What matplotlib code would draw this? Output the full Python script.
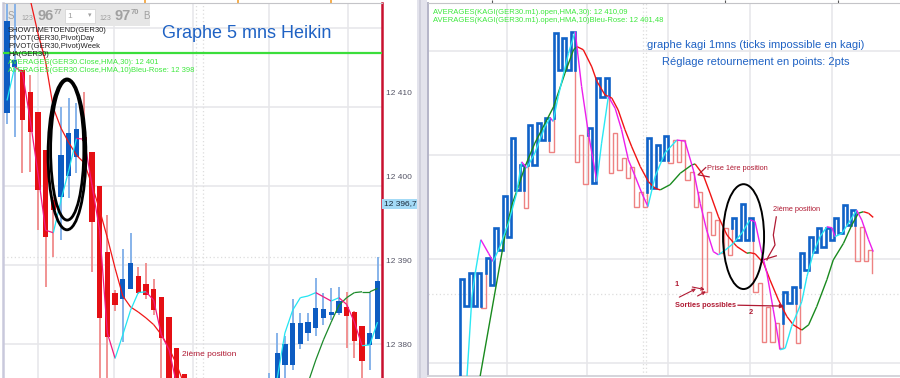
"""
    plot.py

    Two trading screenshots side by side: GER30 Heikin Ashi 5 mn (left)
    and GER30 kagi 1 mn, reversal 2 pts (right)

"""

from matplotlib import pyplot as plt
from matplotlib.collections import LineCollection
from matplotlib.patches import Ellipse, Rectangle
from matplotlib import transforms

import numpy as np

plt.rcParams['font.family'] = ['Liberation Sans', 'DejaVu Sans']

# ---------------------------------------------------------------- left data
ha_open = [12407.5, 12413.0, 12412.6, 12410.0, 12407.6, 12403.1, 12397.2, 12397.5, 12400.0, 12402.3,
           12404.7, 12402.9, 12398.85, 12391.0, 12386.2, 12385.4, 12386.6, 12388.2, 12387.2, 12386.6,
           12385.7, 12383.3, 12379.6, 12376.5, 12374.0, 12372.0, 12370.0, 12368.0, 12364.0, 12365.0,
           12367.0, 12366.0, 12367.0, 12369.0, 12370.0, 12373.0, 12377.6, 12377.6, 12380.1, 12381.4,
           12382.0, 12383.2, 12383.6, 12383.8, 12384.5, 12383.9, 12382.2, 12380.0, 12380.7]
ha_high = [12421.5, 12421.5, 12412.6, 12412.0, 12407.6, 12403.1, 12397.5, 12408.2, 12409.3, 12408.7,
           12410.0, 12402.9, 12398.85, 12395.4, 12386.5, 12391.4, 12393.3, 12389.2, 12389.7, 12387.8,
           12385.7, 12383.3, 12379.6, 12376.5, 12374.5, 12373.0, 12371.0, 12369.0, 12369.0, 12370.0,
           12369.0, 12371.0, 12373.0, 12374.0, 12376.7, 12381.4, 12381.0, 12385.4, 12383.8, 12383.8,
           12387.9, 12386.2, 12386.8, 12386.9, 12386.3, 12384.0, 12382.2, 12386.2, 12390.4]
ha_low = [12406.2, 12404.7, 12400.4, 12400.5, 12393.6, 12386.9, 12390.4, 12392.4, 12397.4, 12400.4,
          12400.4, 12388.6, 12372.0, 12372.0, 12384.0, 12380.3, 12386.6, 12386.0, 12385.5, 12383.5,
          12376.0, 12371.0, 12369.0, 12367.0, 12365.0, 12364.0, 12362.0, 12361.0, 12362.0, 12363.0,
          12363.0, 12364.0, 12366.0, 12367.0, 12369.0, 12372.0, 12374.0, 12377.0, 12379.5, 12380.5,
          12381.1, 12382.4, 12383.0, 12383.5, 12379.6, 12378.4, 12376.1, 12377.0, 12380.7]
ha_close = [12418.4, 12413.8, 12406.7, 12405.3, 12398.4, 12392.8, 12396.0, 12402.5, 12405.1, 12405.6,
            12404.2, 12394.6, 12383.2, 12380.9, 12384.7, 12387.8, 12389.7, 12386.2, 12385.9, 12384.1,
            12380.8, 12374.5, 12373.0, 12371.0, 12369.0, 12367.0, 12365.0, 12364.0, 12366.0, 12368.0,
            12365.0, 12369.0, 12371.0, 12372.0, 12374.0, 12379.0, 12380.1, 12382.6, 12382.6, 12382.7,
            12384.4, 12384.3, 12383.9, 12385.2, 12383.4, 12380.5, 12378.1, 12381.4, 12387.6]

hma10_left = [12409.0, 12413.0, 12412.3, 12406.7, 12400.4, 12393.6, 12393.3, 12397.2, 12400.7, 12404.5,
              12404.4, 12399.0, 12393.6, 12381.4, 12378.4, 12381.2, 12384.1, 12386.2, 12386.3, 12385.3,
              12381.2, 12379.4, 12375.2, 12372.0, 12370.0, 12368.0, 12366.5, 12365.5, 12365.0, 12365.2,
              12366.0, 12367.5, 12369.5, 12371.5, 12373.5, 12376.0, 12381.4, 12384.1, 12385.6, 12385.8,
              12386.2, 12385.7, 12385.2, 12385.6, 12384.8, 12382.7, 12379.9, 12380.0, 12382.7]
hma30_left = [12430.0, 12427.0, 12424.0, 12421.0, 12417.0, 12413.6, 12408.1, 12405.7, 12404.0, 12402.5,
              12401.6, 12399.0, 12396.0, 12392.7, 12389.1, 12385.8, 12384.5, 12383.9, 12383.2, 12382.4,
              12381.2, 12379.6, 12377.6, 12375.2, 12373.5, 12372.0, 12370.5, 12369.5, 12368.5, 12367.5,
              12367.0, 12366.5, 12366.3, 12366.2, 12366.3, 12367.0, 12368.5, 12370.5, 12373.0, 12375.5,
              12378.2, 12380.6, 12382.7, 12384.7, 12385.6, 12386.2, 12386.3, 12386.3, 12386.7]

left_ticks = [12410, 12400, 12390, 12380]
left_tick_labels = ['12 410', '12 400', '12 390', '12 380']
left_hgrid = [12417.6, 12408.2, 12398.85, 12389.5, 12380.1]
left_vgrid = [4.0, 13.9, 24.1, 33.9, 44.2]
left_vdots = [24.5, 25.4]
last_price = 12396.72
pivot_line = 12414.6

# --------------------------------------------------------------- right data
kagi = [12372.8,
        12396.1, 12390.9, 12397.3, 12390.9, 12397.3, 12390.6, 12400.2, 12395.0, 12406.0, 12401.7,
        12412.1, 12404.2, 12423.3, 12413.3, 12418.1, 12409.8, 12425.8, 12418.1, 12426.2, 12422.9,
        12427.2, 12420.6, 12443.5, 12436.4, 12442.6, 12436.4, 12443.7, 12418.7, 12423.9, 12414.4,
        12425.2, 12414.6, 12434.9, 12431.2, 12434.9, 12416.6, 12424.3, 12417.1, 12419.5, 12415.6,
        12417.7, 12410.0, 12412.9, 12410.0, 12423.3, 12413.7, 12422.0, 12419.1, 12423.7, 12418.5,
        12422.9, 12418.7, 12422.9, 12415.2, 12416.8, 12410.0, 12412.9, 12393.6, 12409.1, 12404.6,
        12407.5, 12401.2, 12406.0, 12400.8, 12407.9, 12403.7, 12410.6, 12403.7, 12407.9, 12393.6,
        12395.4, 12384.0, 12390.8, 12384.0, 12387.7, 12382.9, 12393.6, 12391.5, 12394.6, 12383.8,
        12401.2, 12397.9, 12404.2, 12401.4, 12406.0, 12402.3, 12406.0, 12403.7, 12407.9, 12405.0,
        12410.4, 12406.6, 12409.4, 12399.6, 12406.2, 12399.6, 12401.7, 12397.3]

hma10_kx = [1.3, 2.8, 3.5, 4.9, 6.7, 7.8, 9.4, 11.4, 13.3, 14.5, 15.7, 17.6, 20.0, 21.2, 21.9, 23.1,
            25.5, 27.1, 28.6, 30.2, 32.2, 33.3, 34.9, 36.5, 38.0, 39.6, 41.2, 42.8, 44.2, 45.9, 48.2,
            51.0, 52.9, 54.9, 56.5, 58.0, 59.6, 60.8, 62.4, 64.3, 66.3, 68.2, 69.4, 71.0, 72.2, 73.7,
            75.3, 76.5, 78.0, 80.4, 81.6, 83.1, 84.7, 86.3, 87.5, 88.2, 89.8, 91.4, 93.3, 94.5, 96.1, 97.2]
hma10_kv = [12372.8, 12392.7, 12396.9, 12403.7, 12401.1, 12399.5, 12402.4, 12406.9, 12412.6, 12418.7,
            12417.5, 12420.4, 12425.5, 12427.2, 12426.5, 12431.3, 12439.6, 12443.8, 12433.2, 12424.2,
            12414.9, 12422.3, 12431.3, 12429.0, 12424.9, 12419.1, 12415.9, 12412.6, 12410.1, 12415.9,
            12420.4, 12422.9, 12422.7, 12417.1, 12410.7, 12405.6, 12401.4, 12400.8, 12401.7, 12403.0,
            12405.0, 12407.5, 12407.2, 12401.1, 12397.2, 12390.2, 12382.5, 12382.8, 12387.0, 12391.8,
            12396.6, 12401.1, 12404.3, 12406.2, 12406.0, 12404.3, 12404.9, 12406.9, 12409.4, 12407.5,
            12403.7, 12401.4]
hma30_kx = [4.0, 10.6, 12.2, 13.7, 15.3, 17.6, 22.0, 24.7, 26.7, 27.5, 29.0, 31.0, 32.2, 34.1, 35.7,
            37.2, 38.8, 40.4, 42.4, 44.3, 45.9, 47.1, 49.4, 51.8, 54.5, 55.3, 57.2, 58.8, 60.8, 62.8,
            65.1, 67.5, 68.2, 69.4, 71.4, 72.9, 74.9, 76.9, 78.4, 80.4, 82.0, 83.9, 86.3, 87.8, 90.2,
            92.2, 93.7, 94.9, 96.1, 97.2]
hma30_kv = [12374.0, 12404.6, 12410.4, 12413.9, 12417.8, 12422.3, 12429.3, 12435.8, 12440.3, 12440.9,
            12440.3, 12437.0, 12434.2, 12431.6, 12431.0, 12428.7, 12424.9, 12421.6, 12417.8, 12414.9,
            12413.6, 12413.3, 12414.3, 12416.5, 12418.1, 12418.3, 12416.2, 12412.7, 12408.1, 12404.6,
            12402.4, 12401.1, 12401.2, 12401.0, 12399.2, 12396.0, 12392.1, 12388.9, 12387.3, 12386.3,
            12387.3, 12390.8, 12396.0, 12399.8, 12403.0, 12406.6, 12408.8, 12409.1, 12408.8, 12408.0]

right_hgrid = [12440, 12420, 12400, 12380]
right_hdots = [12393.3]
right_vgrid = [11.1, 29.9, 48.9, 68.2, 87.5]
right_vdots = [43.0, 43.8]

BLUE = '#0d5cc2'
LBLUE = '#7eaee8'
RED = '#e50f14'
LRED = '#f08a8a'
ANNOT = '#b01a33'
GRID = '#e6e6e9'

W, H = 900, 378
fig = plt.figure(figsize=(9, 3.78), dpi=100, facecolor='white')


def fbox(x0, y0, x1, y1):
    return [x0 / W, 1 - y1 / H, (x1 - x0) / W, (y1 - y0) / H]


def ftext(x, y, s, **kw):
    return fig.text(x / W, 1 - y / H, s, **kw)


def slope_line(ax, x, y, up_col, down_col, lw=0.9, z=5):
    pts = np.column_stack([x, y])
    segs = np.stack([pts[:-1], pts[1:]], axis=1)
    cols = [up_col if b >= a else down_col for a, b in zip(y[:-1], y[1:])]
    ax.add_collection(LineCollection(segs, colors=cols, linewidths=lw, zorder=z))


# ================================================================ left panel
axL = fig.add_axes(fbox(3, 3, 382, 378))
axL.set_xlim(-0.52, 48.58)
axL.set_ylim(12376.07, 12420.56)

for g in left_hgrid:
    axL.axhline(g, color=GRID, lw=1.1, zorder=0)
for g in left_vgrid:
    axL.axvline(g, color=GRID, lw=1.1, zorder=0)
for g in left_vdots:
    axL.axvline(g, color='#dddddd', lw=0.9, ls=(0, (1, 2)), zorder=0)
axL.axhline(12390.4, color='#dddddd', lw=0.9, ls=(0, (1, 2)), zorder=0)

o = np.array(ha_open)
c = np.array(ha_close)
idx = np.arange(len(o))
up = c >= o
axL.vlines(idx, ha_low, ha_high, colors=np.where(up, LBLUE, LRED), lw=1.3, zorder=2)
axL.bar(idx, np.maximum(np.abs(c - o), 0.15), bottom=np.minimum(o, c), width=0.68,
        color=np.where(up, BLUE, RED), zorder=3)

slope_line(axL, idx, np.array(hma30_left), '#1b8a2a', '#f01818', lw=0.9)
slope_line(axL, idx, np.array(hma10_left), '#22e5f2', '#f2197e', lw=0.9)

axL.axhline(pivot_line, color='#3bde3b', lw=1.6, zorder=4)

axL.add_patch(Ellipse((7.77, 12402.6), 4.9, 17.9, fill=False, ec='black', lw=2.0, zorder=7))
axL.add_patch(Ellipse((7.8, 12403.1), 4.3, 16.6, fill=False, ec='black', lw=2.0, zorder=7))
axL.text(22.7, 12378.9, '2ième position', color=ANNOT, fontsize=6, va='center', zorder=8)

axL.yaxis.tick_right()
axL.set_yticks(left_ticks, left_tick_labels)
axL.tick_params(axis='y', length=0, pad=3, labelsize=6, labelcolor='#555566')
axL.xaxis.tick_top()
axL.set_xticks([17.9, 29.9, 42.0], ['', '', ''])
axL.tick_params(axis='x', length=2.2, width=1.2, color='#f2a030', direction='out')

for side in ['bottom']:
    axL.spines[side].set_visible(False)
axL.spines['top'].set_color('#c4c4c8')
axL.spines['top'].set_linewidth(0.8)
axL.spines['right'].set_color('#c8102e')
axL.spines['right'].set_linewidth(1.8)
axL.spines['left'].set_color('#c9c9dc')
axL.spines['left'].set_linewidth(1.8)

blend = transforms.blended_transform_factory(axL.transAxes, axL.transData)
axL.text(1.004, last_price, '12 396,72', transform=blend, fontsize=6, color='#1a2a3a',
         va='center', ha='left', clip_on=False,
         bbox=dict(boxstyle='square,pad=0.15', fc='#a3daf6', ec='none'))

# top-left quote box
axL.add_patch(Rectangle((4 / W, 1 - 26 / H), 146 / W, 22 / H, transform=fig.transFigure,
                        fc='#e6e6e6', ec='none', zorder=1.5, clip_on=False))
axL.add_patch(Rectangle((65 / W, 1 - 23 / H), 30 / W, 14 / H, transform=fig.transFigure,
                        fc='white', ec='#d0d0d0', lw=0.5, zorder=1.6, clip_on=False))
quote = [(8, 16, 'S', 7, 'normal'), (21, 18, '123', 5, 'normal'), (37, 16, '96', 10.5, 'bold'),
         (54, 12, '77', 5.5, 'bold'), (67, 16, '1', 6, 'normal'), (88, 16, '▾', 5, 'normal'),
         (99, 18, '123', 5, 'normal'), (114, 16, '97', 10.5, 'bold'), (131, 12, '70', 5.5, 'bold'),
         (143, 16, 'B', 7, 'normal')]
for qx, qy, qs, qf, qw in quote:
    axL.text(qx / W, 1 - qy / H, qs, transform=fig.transFigure, fontsize=qf, fontweight=qw,
             color='#a0a0a0', va='center', ha='left', zorder=1.7, clip_on=False,
             family=['Liberation Sans', 'DejaVu Sans'])

ftext(247, 34, 'Graphe 5 mns Heikin', fontsize=13, color='#1f62c4', ha='center', va='center')
left_legend = [('SHOWTIMETOEND(GER30)', '#222222'), ('PIVOT(GER30,Pivot)Day', '#222222'),
               ('PIVOT(GER30,Pivot)Week', '#222222'), ('HA(GER30)', '#222222'),
               ('AVERAGES(GER30.Close,HMA,30): 12 401', '#3ee83e'),
               ('AVERAGES(GER30.Close,HMA,10)Bleu-Rose: 12 398', '#3ee83e')]
for j, (s, col) in enumerate(left_legend):
    ftext(8, 30.7 + 7.9 * j, s, fontsize=5.5, color=col, va='center')

# ================================================================ right panel
axR = fig.add_axes(fbox(428, 3, 900, 376))
axR.set_xlim(-7.53, 103.5)
axR.set_ylim(12377.45, 12449.3)

for g in right_hgrid:
    axR.axhline(g, color=GRID, lw=1.1, zorder=0)
for g in right_hdots:
    axR.axhline(g, color='#dddddd', lw=0.9, ls=(0, (1, 2)), zorder=0)
for g in right_vgrid:
    axR.axvline(g, color=GRID, lw=1.1, zorder=0)
for g in right_vdots:
    axR.axvline(g, color='#dddddd', lw=0.9, ls=(0, (1, 2)), zorder=0)

# kagi: thick (yang) / thin (yin) switching on shoulder / waist breaks
segs = []
state = 'yang'
shoulder, waist = None, None
for k in range(len(kagi) - 1):
    a, b = kagi[k], kagi[k + 1]
    if b > a:
        if state == 'yin' and shoulder is not None and b > shoulder:
            segs.append(((k, a), (k, shoulder), 'yin'))
            segs.append(((k, shoulder), (k, b), 'yang'))
            state = 'yang'
        else:
            segs.append(((k, a), (k, b), state))
        shoulder = b
    else:
        if state == 'yang' and waist is not None and b < waist:
            segs.append(((k, a), (k, waist), 'yang'))
            segs.append(((k, waist), (k, b), 'yin'))
            state = 'yin'
        else:
            segs.append(((k, a), (k, b), state))
        waist = b
    if k < len(kagi) - 2:
        segs.append(((k, b), (k + 1, b), state))

runs = []
for p0, p1, st in segs:
    if runs and runs[-1][0] == st and runs[-1][1][-1] == p0:
        runs[-1][1].append(p1)
    else:
        runs.append((st, [p0, p1]))

for st, pts in runs:
    xs, ys = zip(*pts)
    if st == 'yang':
        axR.plot(xs, ys, color='#1062c8', lw=1.9, solid_joinstyle='miter', zorder=3)
    else:
        axR.plot(xs, ys, color='#ee8282', lw=1.0, solid_joinstyle='miter', zorder=2)

slope_line(axR, np.array(hma30_kx), np.array(hma30_kv), '#198a1e', '#f01414', lw=1.0, z=5)
slope_line(axR, np.array(hma10_kx), np.array(hma10_kv), '#2ae8f4', '#ec1eec', lw=1.0, z=5)

axR.add_patch(Ellipse((66.7, 12404.3), 9.65, 20.2, fill=False, ec='black', lw=1.4, zorder=7))

# hand drawn notes
axR.plot([57.8, 56.0, 58.6], [12417.6, 12416.2, 12415.8], color=ANNOT, lw=0.9, zorder=8)
axR.text(58.1, 12417.5, 'Prise 1ère position', color=ANNOT, fontsize=5.3, va='center', zorder=8)
axR.text(73.6, 12409.6, '2ième position', color=ANNOT, fontsize=5.3, va='center', zorder=8)
axR.plot([74.4, 73.7, 74.1, 72.5, 72.2], [12408.1, 12404.6, 12402.7, 12400.4, 12399.8],
         color=ANNOT, lw=0.9, zorder=8)
axR.plot([71.6, 74.4], [12399.9, 12400.6], color=ANNOT, lw=0.9, zorder=8)
axR.text(50.4, 12395.0, '1', color=ANNOT, fontsize=5.3, fontweight='bold', va='center', zorder=8)
for x0, y0, x1, y1 in [(51.0, 12392.4, 56.1, 12394.5), (55.3, 12392.6, 58.4, 12394.0),
                       (54.0, 12394.7, 58.2, 12394.0)]:
    axR.annotate('', xy=(x1, y1), xytext=(x0, y0),
                 arrowprops=dict(arrowstyle='->', color=ANNOT, lw=0.8, mutation_scale=5), zorder=8)
axR.text(50.6, 12391.1, 'Sorties possibles', color=ANNOT, fontsize=5.3, fontweight='bold',
         va='center', zorder=8)
axR.annotate('', xy=(76.9, 12390.9), xytext=(64.7, 12391.1),
             arrowprops=dict(arrowstyle='-|>', color=ANNOT, lw=0.9, mutation_scale=6), zorder=8)
axR.text(67.8, 12389.6, '2', color=ANNOT, fontsize=5.3, fontweight='bold', va='center', zorder=8)

axR.xaxis.tick_top()
axR.set_xticks([7.5, 62.4, 88.9], ['', '', ''])
axR.tick_params(axis='x', length=2.2, width=0.8, color='#555555', direction='out')
axR.set_yticks([])
axR.spines['right'].set_visible(False)
axR.spines['top'].set_color('#c4c4c8')
axR.spines['top'].set_linewidth(0.8)
axR.spines['bottom'].set_color('#d4d4da')
axR.spines['bottom'].set_linewidth(1.4)
axR.spines['left'].set_color('#b4b4c8')
axR.spines['left'].set_linewidth(1.4)

ftext(433, 12.3, 'AVERAGES(KAGI(GER30.m1).open,HMA,30): 12 410,09', fontsize=5.5,
      color='#3ee83e', va='center')
ftext(433, 20.0, 'AVERAGES(KAGI(GER30.m1).open,HMA,10)Bleu-Rose: 12 401,48', fontsize=5.5,
      color='#3ee83e', va='center')
ftext(756, 45, 'graphe kagi 1mns (ticks impossible en kagi)', fontsize=8, color='#1f62c4',
      ha='center', va='center')
ftext(756, 62, 'Réglage retournement en points: 2pts', fontsize=8, color='#1f62c4',
      ha='center', va='center')

# grey splitter between the two windows
fig.patches.append(Rectangle((417 / W, 0), 10 / W, 1, transform=fig.transFigure,
                             fc='#e3e3ec', ec='none', zorder=1))
fig.patches.append(Rectangle((419 / W, 0), 1.5 / W, 1, transform=fig.transFigure,
                             fc='#d0d0dc', ec='none', zorder=1))

fig.savefig('out.png', dpi=100)
